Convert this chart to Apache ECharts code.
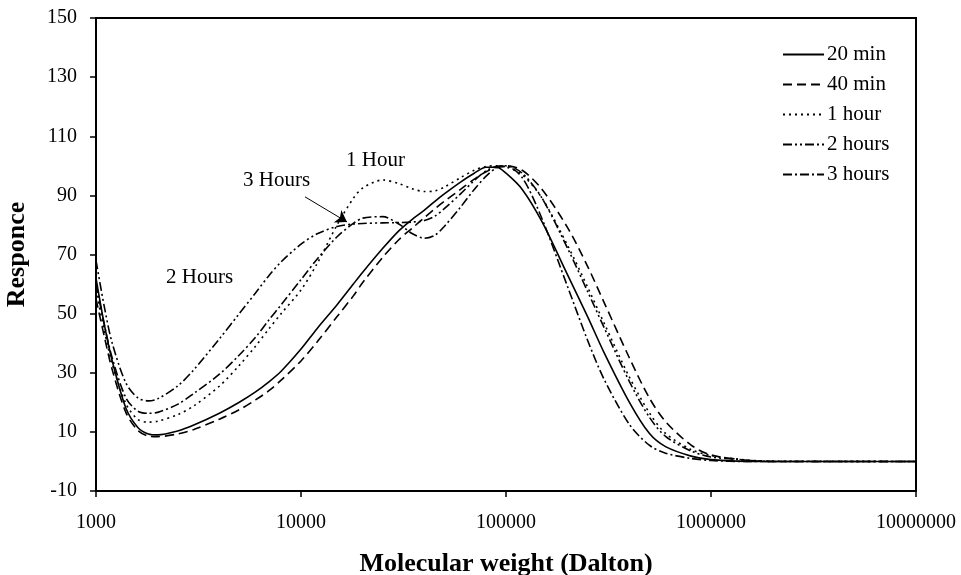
<!DOCTYPE html>
<html>
<head>
<meta charset="utf-8">
<title>Molecular weight distribution</title>
<script src="https://cdn.jsdelivr.net/npm/echarts@6/dist/echarts.min.js"></script>
<style>
  html, body { margin: 0; padding: 0; background: #fff; }
  #chart { width: 961px; height: 575px; }
</style>
</head>
<body>
<div id="chart"></div>
<script>
// molecular weight (Dalton), shared by all curves
const mw = [1000, 1100, 1200, 1400, 1600, 1800, 2000, 2500, 3000, 4000, 5000, 6000, 7000, 8000,
  10000, 12000, 15000, 18000, 20000, 25000, 30000, 35000, 40000, 45000, 50000, 60000, 70000,
  80000, 90000, 100000, 120000, 150000, 200000, 250000, 300000, 400000, 500000, 600000,
  800000, 1000000, 1500000, 2000000, 10000000]

const min20 = [62, 46, 34, 18, 11.5, 9.3, 9, 10.3, 12.3, 16.3, 20, 23.5, 27, 30.5,
  38, 45, 53, 60, 64, 72, 78, 82, 85, 88, 90.5, 94.5, 97.5,
  99.5, 99.5, 97.5, 92, 81, 63, 49, 37, 20, 9.5, 5,
  1.8, 0.6, 0, 0, 0]

const min40 = [55, 42, 31, 16.5, 10.5, 8.6, 8.4, 9.3, 10.8, 14.3, 17.5, 20.8, 24, 27.5,
  34, 40.5, 49, 56, 60.5, 69, 75, 79, 82.5, 85.5, 88, 92, 95.5,
  98, 99.5, 100, 98.5, 92, 79, 66, 54, 35, 21.5, 13.5,
  5.5, 2.2, 0.4, 0, 0]

const hour1 = [58, 44, 33, 19.5, 14.2, 13.3, 13.6, 15.8, 18.8, 25.5, 32.5, 39, 45, 50,
  58, 67, 80, 89, 92.5, 95.2, 94, 92.2, 91.3, 91.5, 92.8, 96, 98.5,
  99.8, 100, 99.6, 97, 89, 73, 59, 47, 28.5, 16.5, 9.5,
  4, 2, 0.5, 0.1, 0]

const hours2 = [68, 52, 40, 26.5, 21.5, 20.5, 21.2, 25.5, 31, 41.5, 50, 57, 63, 67.5,
  73.5, 77, 79.5, 80.3, 80.5, 80.7, 80.8, 81, 81.5, 83, 85.5, 90.5, 95,
  98.3, 99.8, 100, 97.5, 89, 72, 57.5, 45.5, 27, 15, 8.5,
  3.5, 1.5, 0.4, 0, 0]

const hours3 = [60, 46, 35, 21.5, 17, 16.3, 16.6, 19.3, 23, 29.5, 36, 42, 48, 53,
  61.5, 68.5, 76, 80.5, 82.3, 82.8, 80.3, 77, 75.5, 76.5, 79.5, 86, 92,
  96.5, 99.3, 99.8, 96, 82, 59, 41, 28, 12.5, 5.5, 2.8,
  1, 0.3, 0, 0, 0]

const seriesNames = ['20 min', '40 min', '1 hour', '2 hours', '3 hours']
const dashTypes = ['solid', [9, 5], [2, 4], [9, 3, 2, 3, 2, 3], [9, 3, 2, 3]]

// arrow for the "3 Hours" note, in data units
const arrowFrom = [10460, 89.5]
const arrowTo = [16760, 81]

const font = 'Liberation Serif, Times New Roman, serif'

const myChart = echarts.init(document.getElementById('chart'))

function pairs(ys) {
  return mw.map((x, i) => [x, ys[i]])
}

const allData = [min20, min40, hour1, hours2, hours3]

let series = allData.map((ys, i) => {
  let s = {
    name: seriesNames[i],
    type: 'line',
    data: pairs(ys),
    smooth: 0.3,
    symbol: 'none',
    color: '#000',
    lineStyle: {
      color: '#000',
      width: 1.6,
      type: dashTypes[i]
    }
  }
  if (i === 4) {
    s.markLine = {
      silent: true,
      symbol: ['none', 'arrow'],
      symbolSize: 11,
      label: { show: false },
      lineStyle: { color: '#000', width: 1, type: 'solid' },
      data: [[{ coord: arrowFrom }, { coord: arrowTo }]]
    }
  }
  return s
})

let option = {
  animation: false,
  backgroundColor: '#fff',
  grid: {
    left: 96,
    right: 45,
    top: 18,
    bottom: 84,
    containLabel: false,
    outerBoundsMode: 'none',
    show: true,
    borderColor: '#000',
    borderWidth: 2,
    backgroundColor: 'transparent'
  },
  legend: {
    orient: 'vertical',
    left: 778,
    top: 42,
    itemWidth: 41,
    itemHeight: 14,
    itemGap: 9,
    padding: [2, 4],
    backgroundColor: '#fff',
    data: seriesNames,
    itemStyle: { color: 'transparent', borderWidth: 0, opacity: 0 },
    textStyle: { fontFamily: font, fontSize: 21, color: '#000', padding: [0, 0, 0, -2] }
  },
  xAxis: {
    type: 'log',
    logBase: 10,
    min: 1000,
    max: 10000000,
    name: 'Molecular weight (Dalton)',
    nameLocation: 'middle',
    nameGap: 60,
    nameTextStyle: { fontFamily: font, fontSize: 26, fontWeight: 'bold', color: '#000' },
    axisLine: { onZero: false, lineStyle: { color: '#000', width: 2 } },
    axisTick: { show: true, length: 6, lineStyle: { color: '#000', width: 1.5 } },
    minorTick: { show: false },
    splitLine: { show: false },
    axisLabel: {
      margin: 22,
      fontFamily: font,
      fontSize: 20,
      color: '#000',
      formatter: v => String(Math.round(v))
    }
  },
  yAxis: {
    type: 'value',
    min: -10,
    max: 150,
    interval: 20,
    name: 'Responce',
    nameLocation: 'middle',
    nameGap: 66,
    nameTextStyle: { fontFamily: font, fontSize: 26, fontWeight: 'bold', color: '#000' },
    axisLine: { show: true, onZero: false, lineStyle: { color: '#000', width: 2 } },
    axisTick: { show: true, length: 6, lineStyle: { color: '#000', width: 1.5 } },
    splitLine: { show: false },
    axisLabel: { margin: 19, fontFamily: font, fontSize: 20, color: '#000' }
  },
  graphic: [
    { type: 'text', left: 346, top: 150, style: { text: '1 Hour', font: '21px ' + font, fill: '#000' } },
    { type: 'text', left: 243, top: 170, style: { text: '3 Hours', font: '21px ' + font, fill: '#000' } },
    { type: 'text', left: 166, top: 267, style: { text: '2 Hours', font: '21px ' + font, fill: '#000' } }
  ],
  series: series
}

myChart.setOption(option)
</script>
</body>
</html>
